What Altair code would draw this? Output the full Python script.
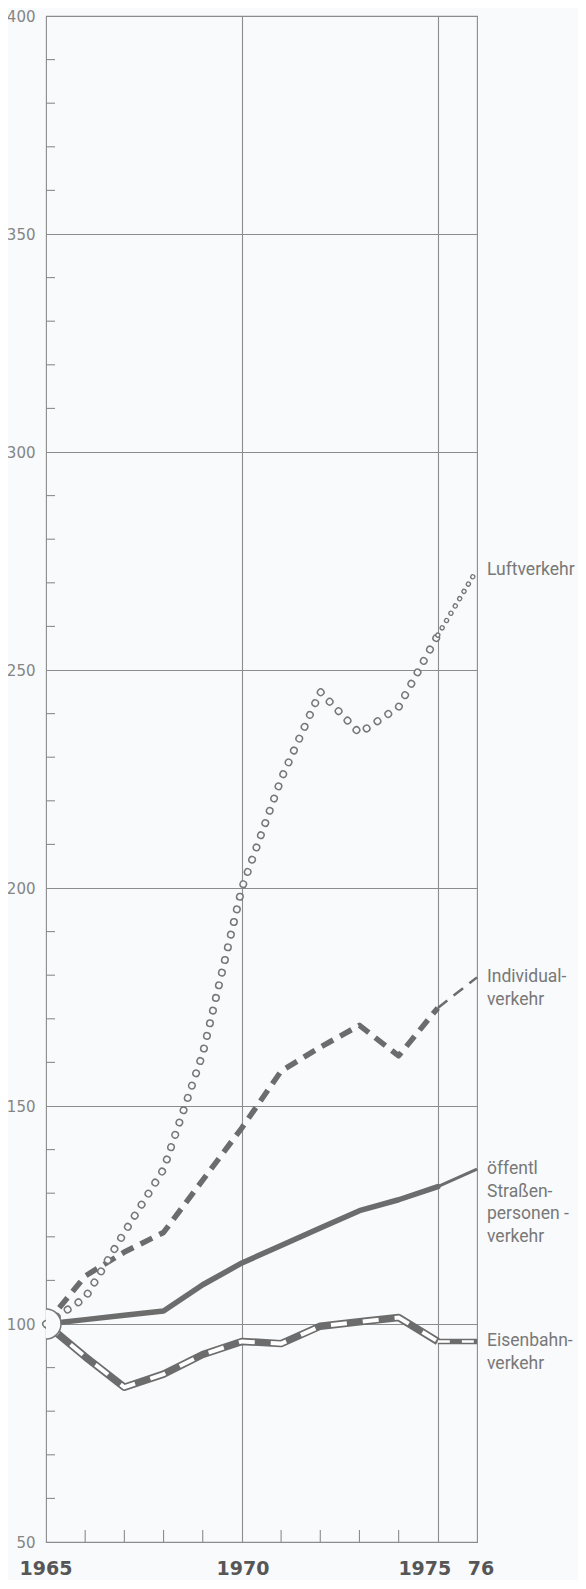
import altair as alt
import pandas as pd

# ---------------- data (index 1965 = 100) ----------------
years = [1965, 1966, 1967, 1968, 1969, 1970, 1971, 1972, 1973, 1974, 1975, 1976]
luftverkehr = [100, 106, 121, 135.5, 162, 200, 225, 245, 235.5, 241.5, 258, 273]
individualverkehr = [100, 111, 116.5, 121, 133, 145, 158, 163.5, 168.5, 161.5, 172.5, 179.5]
strassenpersonenverkehr = [100, 101, 102, 103, 109, 114, 118, 122, 126, 128.5, 131.5, 135.5]
eisenbahnverkehr = [100, 92.5, 85.5, 88.5, 93, 96, 95.5, 99.5, 100.5, 101.5, 96, 96]

series_keys = ["luft", "indiv", "strassen", "eisen"]
series_labels = [
    "Luftverkehr",
    "Individual-\nverkehr",
    "öffentl\nStraßen-\npersonen -\nverkehr",
    "Eisenbahn-\nverkehr",
]
base_index = 100
last_observed_year = 1975

y_major = [50, 100, 150, 200, 250, 300, 350, 400]
y_minor = [60, 70, 80, 90, 110, 120, 130, 140, 160, 170, 180, 190,
           210, 220, 230, 240, 260, 270, 280, 290, 310, 320, 330, 340,
           360, 370, 380, 390]
x_grid = [1970, 1975]
x_minor = [1966, 1967, 1968, 1969, 1971, 1972, 1973, 1974]
x_label_years = [1965, 1970, 1975, 1976]
x_label_texts = ["1965", "1970", "1975", "76"]

# ---------------- styling ----------------
W, H = 431, 1526
BG = "#f8fafb"
GRID = "#8c8c8c"
INK = "#6c6c6c"
TXT = "#787878"

rows = []
for key, vals in zip(series_keys, [luftverkehr, individualverkehr,
                                   strassenpersonenverkehr, eisenbahnverkehr]):
    for yr, v in zip(years, vals):
        rows.append({"year": yr, "value": v, "series": key})
df = pd.DataFrame(rows)
df_main = df[df["year"] <= last_observed_year]
df_proj = df[df["year"] >= last_observed_year]

xaxis = alt.Axis(values=x_grid, grid=True, labels=False, ticks=False, domain=False,
                 title=None, gridColor=GRID, gridWidth=1.1)
yaxis = alt.Axis(values=y_major, grid=True, ticks=False, domain=False, title=None,
                 gridColor=GRID, gridWidth=1.1, labelFont="DejaVu Sans",
                 labelFontSize=15, labelColor="#858585", labelPadding=11)


def X():
    return alt.X("year:Q", scale=alt.Scale(domain=[1965, 1976], nice=False, zero=False),
                 axis=xaxis)


def Y():
    return alt.Y("value:Q", scale=alt.Scale(domain=[50, 400], nice=False, zero=False),
                 axis=yaxis)


def line(data, key, **mark):
    return (alt.Chart(data)
            .transform_filter(alt.datum.series == key)
            .mark_line(**mark)
            .encode(x=X(), y=Y()))


# minor ticks (inward)
ytick_df = pd.DataFrame({"value": y_minor})
yticks = alt.Chart(ytick_df).mark_rule(color=GRID, strokeWidth=1.1).encode(
    y=Y(), x=alt.value(0), x2=alt.value(9))
xtick_df = pd.DataFrame({"year": x_minor})
xticks = alt.Chart(xtick_df).mark_rule(color=GRID, strokeWidth=1.1).encode(
    x=X(), y=alt.value(H), y2=alt.value(H - 12))

layers = [yticks, xticks]

# öffentl. Straßenpersonenverkehr: solid
layers.append(line(df_main, "strassen", color=INK, strokeWidth=5.5, strokeCap="round", strokeJoin="round"))
layers.append(line(df_proj, "strassen", color=INK, strokeWidth=3))

# Individualverkehr: heavy dashes
layers.append(line(df_main, "indiv", color=INK, strokeWidth=5.5, strokeDash=[13, 8], strokeJoin="round"))
layers.append(line(df_proj, "indiv", color=INK, strokeWidth=2.5, strokeDash=[12, 8]))

# Eisenbahnverkehr: gray band with white inner dashes
layers.append(line(df_main, "eisen", color=INK, strokeWidth=7.5, strokeJoin="round"))
layers.append(line(df_main, "eisen", color="#ffffff", strokeWidth=4, strokeDash=[16, 16]))
layers.append(line(df_proj, "eisen", color=INK, strokeWidth=5.5))
layers.append(line(df_proj, "eisen", color="#ffffff", strokeWidth=2.4, strokeDash=[12, 12]))

# Luftverkehr: chain of small rings
layers.append(line(df_main, "luft", color="#777777", strokeWidth=8, strokeCap="round",
                   strokeDash=[0.001, 13]))
layers.append(line(df_main, "luft", color=BG, strokeWidth=5, strokeCap="round",
                   strokeDash=[0.001, 13]))
layers.append(line(df_proj, "luft", color="#777777", strokeWidth=5.4, strokeCap="round",
                   strokeDash=[0.001, 8.5]))
layers.append(line(df_proj, "luft", color=BG, strokeWidth=2.8, strokeCap="round",
                   strokeDash=[0.001, 8.5]))

# origin circle (index base)
origin_df = pd.DataFrame({"year": [years[0]], "value": [base_index]})
layers.append(alt.Chart(origin_df).mark_point(
    shape="circle", filled=True, fill=BG, stroke="#777777", strokeWidth=1.5,
    size=900, opacity=1, fillOpacity=1, strokeOpacity=1, clip=True).encode(x=X(), y=Y()))

# series labels at right end
lab_df = pd.DataFrame({
    "year": [years[-1]] * 4,
    "value": [luftverkehr[-1], individualverkehr[-1], strassenpersonenverkehr[-1], eisenbahnverkehr[-1]],
    "text": series_labels,
})
layers.append(alt.Chart(lab_df).mark_text(
    align="left", baseline="middle", dx=10, lineBreak="\n", lineHeight=22.5,
    font="Roboto", fontSize=17.5, color=TXT).encode(x=X(), y=Y(), text="text:N"))

# x labels
xl_df = pd.DataFrame({"year": x_label_years, "text": x_label_texts})
label_shift = {"1965": 0, "1970": 1, "1975": -13, "76": 4}
for t, d in label_shift.items():
    layers.append(alt.Chart(xl_df).transform_filter(alt.datum.text == t).mark_text(
        align="center", baseline="alphabetic", dx=d, font="DejaVu Sans", fontWeight="bold",
        fontSize=19, color="#565656").encode(x=X(), y=alt.value(H + 33), text="text:N"))

chart = alt.layer(*layers).properties(
    width=W, height=H,
    autosize=alt.AutoSizeParams(type="none"),
    padding={"left": 38, "top": 8, "right": 101, "bottom": 38},
    background=BG,
).configure_view(stroke=GRID, strokeWidth=1.1)

chart.save("out.html", embed_options={"renderer": "svg", "actions": False})
